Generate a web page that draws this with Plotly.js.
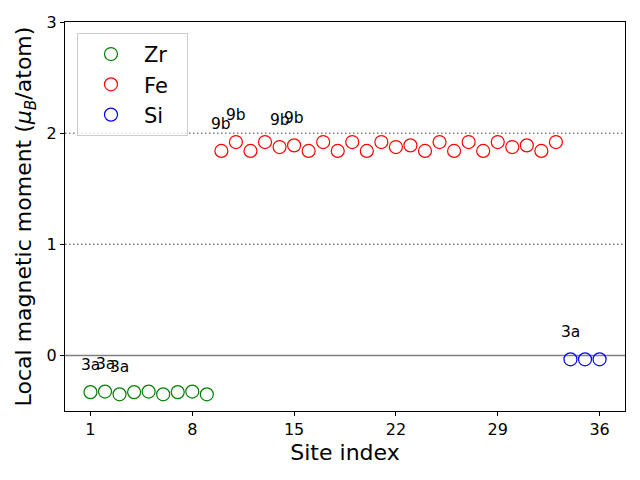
<!DOCTYPE html>
<html>
<head>
<meta charset="utf-8">
<script src="https://cdn.plot.ly/plotly-3.0.1.min.js"></script>
<style>html,body{margin:0;padding:0;background:#fff;}#chart{width:640px;height:480px;}</style>
</head>
<body>
<div id="chart"></div>
<script>
// Data
const zrSites = [1, 2, 3, 4, 5, 6, 7, 8, 9];
const zrMoments = [-0.33, -0.325, -0.35, -0.33, -0.325, -0.35, -0.33, -0.325, -0.35];
const feSites = [10, 11, 12, 13, 14, 15, 16, 17, 18, 19, 20, 21, 22, 23, 24, 25, 26, 27, 28, 29, 30, 31, 32, 33];
const feMoments = [1.84, 1.92, 1.84, 1.92, 1.875, 1.89, 1.84, 1.92, 1.84, 1.92, 1.84, 1.92,
                   1.875, 1.89, 1.84, 1.92, 1.84, 1.92, 1.84, 1.92, 1.875, 1.89, 1.84, 1.92];
const siSites = [34, 35, 36];
const siMoments = [-0.035, -0.035, -0.035];
const labelSites = [1, 2, 3, 10, 11, 14, 15, 34];
const labelTexts = ['3a', '3a', '3a', '9b', '9b', '9b', '9b', '3a'];
const tickSites = [1, 8, 15, 22, 29, 36];
const refLevels = [1, 2];

const allSites = zrSites.concat(feSites, siSites);
const allMoments = zrMoments.concat(feMoments, siMoments);

function mk(name, x, y, color) {
  return {
    type: 'scatter', mode: 'markers', name: name + '  ', x: x, y: y,
    marker: {symbol: 'circle-open', size: 13, color: color, line: {width: 1.2, color: color}},
    hoverinfo: 'x+y'
  };
}
const traces = [
  mk('Zr', zrSites, zrMoments, '#008000'),
  mk('Fe', feSites, feMoments, '#ff0000'),
  mk('Si', siSites, siMoments, '#0000ff')
];

const shapes = [];
refLevels.forEach(v => shapes.push({
  type: 'line', xref: 'paper', x0: 0, x1: 1, yref: 'y', y0: v, y1: v,
  line: {color: '#808080', width: 1.5, dash: '1.5px,2.5px'}, layer: 'below'
}));
shapes.push({
  type: 'line', xref: 'paper', x0: 0, x1: 1, yref: 'y', y0: 0, y1: 0,
  line: {color: '#808080', width: 1.5}, layer: 'below'
});

const annotations = labelSites.map((s, i) => ({
  x: s, y: allMoments[allSites.indexOf(s)] + 0.2, xref: 'x', yref: 'y',
  text: labelTexts[i], showarrow: false, xanchor: 'center', yanchor: 'bottom',
  yshift: -6, font: {family: 'DejaVu Sans', size: 15.5, color: '#000'}
}));

const layout = {
  width: 640, height: 480,
  margin: {l: 65, r: 15, t: 22, b: 69},
  paper_bgcolor: '#fff', plot_bgcolor: '#fff',
  font: {family: 'DejaVu Sans', color: '#000'},
  showlegend: true,
  legend: {
    x: 0.0214, y: 0.972, xanchor: 'left', yanchor: 'top',
    bgcolor: 'rgba(255,255,255,0.8)', bordercolor: '#cccccc', borderwidth: 1,
    font: {family: 'DejaVu Sans', size: 21, color: '#000'},
    itemwidth: 56
  },
  xaxis: {
    range: [-0.75, 37.75], tickmode: 'array', tickvals: tickSites,
    ticks: 'outside', ticklen: 4, tickwidth: 1, tickcolor: '#000',
    showline: true, linecolor: '#000', linewidth: 1, mirror: true,
    showgrid: false, zeroline: false,
    tickfont: {family: 'DejaVu Sans', size: 16, color: '#000'},
    title: {text: 'Site index', font: {family: 'DejaVu Sans', size: 22, color: '#000'}, standoff: 6}
  },
  yaxis: {
    range: [-0.5, 3], tickmode: 'array', tickvals: [0, 1, 2, 3],
    ticks: 'outside', ticklen: 4, tickwidth: 1, tickcolor: '#000',
    showline: true, linecolor: '#000', linewidth: 1, mirror: true,
    showgrid: false, zeroline: false,
    tickfont: {family: 'DejaVu Sans', size: 16, color: '#000'},
    title: {text: 'Local magnetic moment (<i>μ<sub>B</sub></i>/atom)', font: {family: 'DejaVu Sans', size: 22, color: '#000'}, standoff: 8}
  },
  shapes: shapes,
  annotations: annotations
};

Plotly.newPlot('chart', traces, layout, {displayModeBar: false, staticPlot: true});
</script>
</body>
</html>
